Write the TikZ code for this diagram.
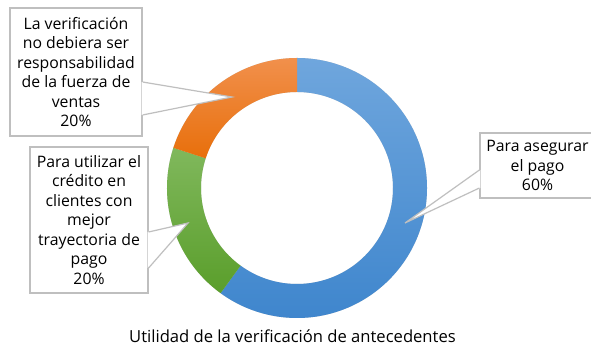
\documentclass[tikz,border=0pt]{standalone}
\usepackage{fontspec}
\setmainfont{Open Sans}
\usetikzlibrary{calc}

\definecolor{lineagray}{HTML}{BFBFBF}
\definecolor{azultop}{HTML}{6FA6DD}
\definecolor{azulbot}{HTML}{3F86CD}
\definecolor{naranjatop}{HTML}{F1904C}
\definecolor{naranjabot}{HTML}{E86F0B}
\definecolor{verdetop}{HTML}{80B85C}
\definecolor{verdebot}{HTML}{5A9E2B}

\tikzset{
  callout/.style={draw=lineagray, line width=1.2pt, fill=white, align=center,
    inner sep=0pt, font=\fontsize{15.8}{19.5}\selectfont},
  leader/.style={draw=lineagray, line width=1.2pt, line join=miter},
}

\def\outerr{130}
\def\innerr{96}

% one slice of the ring: start angle, end angle, top colour, bottom colour
\newcommand{\ringpart}[4]{%
  \shade[top color=#3, bottom color=#4]
    ($(ring)+(#1:\outerr)$) arc[start angle=#1, end angle=#2, radius=\outerr]
    -- ($(ring)+(#2:\innerr)$) arc[start angle=#2, end angle=#1, radius=\innerr]
    -- cycle;
}

\begin{document}
\begin{tikzpicture}[x=1pt, y=1pt]
  \fill[white] (0,0) rectangle (591,347);
  \useasboundingbox (0,0) rectangle (591,347);

  \coordinate (ring) at (297,159);

  % soft shadow
  \foreach \d in {1,...,4}
    \fill[black, opacity=0.05, even odd rule, shift={(0.3*\d,-0.8*\d)}]
      (ring) circle (\outerr) (ring) circle (\innerr);

  \ringpart{90}{-126}{azultop}{azulbot}
  \ringpart{234}{162}{verdetop}{verdebot}
  \ringpart{162}{90}{naranjatop}{naranjabot}

  % callouts
  \node[callout, minimum width=132, minimum height=128] (verif) at (76,275)
    {La verificación\\no debiera ser\\responsabilidad\\de la fuerza de\\ventas\\20\%};
  \node[callout, minimum width=118, minimum height=146] (credito) at (89,127)
    {Para utilizar el\\crédito en\\clientes con\\mejor\\trayectoria de\\pago\\20\%};
  \node[callout, minimum width=115, minimum height=65] (pago) at (537.5,181.5)
    {Para asegurar\\el pago\\60\%};

  \coordinate (verif tip) at (232,250);
  \coordinate (credito tip) at (188,124);
  \coordinate (pago tip) at (405,124);

  \fill[white] ([shift={(-1,-10)}]verif.east) -- (verif tip) -- ([shift={(-1,-43)}]verif.east) -- cycle;
  \draw[leader] ([yshift=-10]verif.east) -- (verif tip) -- ([yshift=-43]verif.east);

  \fill[white] ([shift={(-1,-12)}]credito.east) -- (credito tip) -- ([shift={(-1,-48)}]credito.east) -- cycle;
  \draw[leader] ([yshift=-12]credito.east) -- (credito tip) -- ([yshift=-48]credito.east);

  \fill[white] ([shift={(1,-4.5)}]pago.west) -- (pago tip) -- ([shift={(1,-22.5)}]pago.west) -- cycle;
  \draw[leader] ([yshift=-4.5]pago.west) -- (pago tip) -- ([yshift=-22.5]pago.west);

  \node[font=\fontsize{16.6}{18}\selectfont, anchor=base, inner sep=0pt] (titulo) at (292.5,4)
    {Utilidad de la verificación de antecedentes};
\end{tikzpicture}
\end{document}
